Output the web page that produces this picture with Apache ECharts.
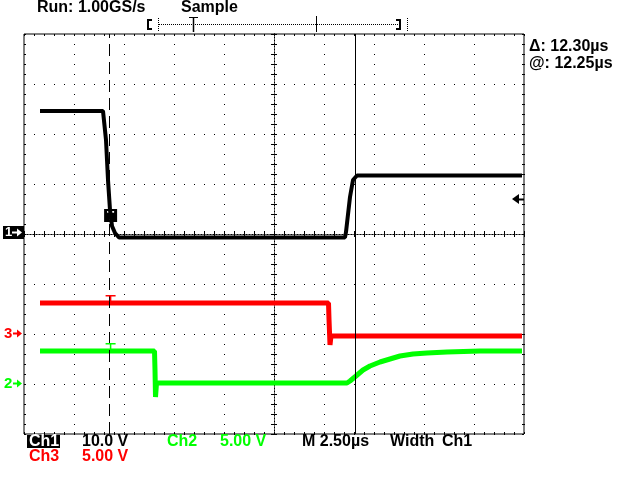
<!DOCTYPE html>
<html><head><meta charset="utf-8">
<script src="https://cdn.jsdelivr.net/npm/echarts@6/dist/echarts.min.js"></script>
<style>html,body{margin:0;padding:0;background:#fff}#c{width:640px;height:480px}</style>
</head><body><div id="c"></div>
<script>
// time in microseconds (0 = screen centre), voltage in volts
const ch1Time = [-11.7, -8.55, -8.5, -8.4, -8.3, -8.2, -8.1, -7.95, -7.75, 3.55, 3.6, 3.8, 3.95, 4.15, 12.4];
const ch1Volt = [24.6, 24.6, 24.2, 18.8, 10.8, 4.8, 1.6, 0.2, -0.7, -0.7, 0.4, 7.4, 10.8, 11.7, 11.7];
const ch3Time = [-11.7, 2.725, 2.75, 2.8, 2.8, 2.85, 12.4];
const ch3Volt = [3.1, 3.1, 1.5, 1.5, -1.1, -0.2, -0.2];
const ch2Time = [-11.7, -5.975, -5.95, -5.925, -5.875, 3.65, 3.8, 4.1, 4.45, 4.8, 5.3, 5.8, 6.3, 6.95, 7.65, 8.65, 10.3, 12.4];
const ch2Volt = [3.3, 3.3, 1.4, -1.3, 0.1, 0.1, 0.3, 0.8, 1.4, 1.8, 2.2, 2.5, 2.8, 3.0, 3.1, 3.2, 3.3, 3.3];
const cursorTimes = [-8.23, 4.07];
const ch1Scale = {min: -40, max: 40, step: 10};   // 10.0 V/div, ground at centre
const ch3Scale = {min: -10, max: 30, step: 5};    // 5.00 V/div
const ch2Scale = {min: -5, max: 35, step: 5};     // 5.00 V/div
const timeScale = {min: -12.5, max: 12.5, step: 2.5}; // 2.50 us/div
const ch1TrigLevel = 7.0;
const trigMarkTime = -8.17;
const topTexts = ['Run: 1.00GS/s', 'Sample'];
const cursorTexts = ['\u0394: 12.30\u00b5s', '@: 12.25\u00b5s'];
const bottomTexts = ['Ch1', '10.0 V', 'Ch2', '5.00 V', 'M 2.50\u00b5s', 'Width', 'Ch1', 'Ch3', '5.00 V'];

const FONT = 'Liberation Sans';
const GREEN = '#00ff00', RED = '#ff0000', BLACK = '#000000';

function pairs(t, v) { return t.map((x, i) => [x, v[i]]); }

const dotted = {color: BLACK, width: 1, type: [1, 9]};
function borderX(pos, split) {
  return {type: 'value', min: timeScale.min, max: timeScale.max, interval: timeScale.step, position: pos,
    axisLine: {show: false, onZero: false}, axisLabel: {show: false},
    axisTick: {show: true, inside: true, length: 2, lineStyle: {color: BLACK}},
    minorTick: {show: true, splitNumber: 5, length: 2, lineStyle: {color: BLACK}},
    splitLine: {show: !!split, lineStyle: dotted}};
}
function centerX(inside) {
  return {type: 'value', min: timeScale.min, max: timeScale.max, interval: timeScale.step, position: 'bottom',
    axisLine: {show: true, onZero: true, onZeroAxisIndex: 0, lineStyle: {color: BLACK, width: 1, type: [1, 2]}},
    axisLabel: {show: false},
    axisTick: {show: true, inside: inside, length: 3, lineStyle: {color: BLACK}},
    minorTick: {show: true, splitNumber: 5, length: 3, lineStyle: {color: BLACK}},
    splitLine: {show: false}};
}
function borderY(pos, split) {
  return {type: 'value', min: ch1Scale.min, max: ch1Scale.max, interval: ch1Scale.step, position: pos,
    axisLine: {show: false, onZero: false}, axisLabel: {show: false},
    axisTick: {show: true, inside: true, length: 2, lineStyle: {color: BLACK}},
    minorTick: {show: true, splitNumber: 5, length: 2, lineStyle: {color: BLACK}},
    splitLine: {show: !!split, lineStyle: dotted}};
}
function centerY(inside) {
  return {type: 'value', min: ch1Scale.min, max: ch1Scale.max, interval: ch1Scale.step, position: 'left',
    axisLine: {show: true, onZero: true, onZeroAxisIndex: 0, lineStyle: {color: BLACK, width: 1, type: [1, 2]}},
    axisLabel: {show: false},
    axisTick: {show: true, inside: inside, length: 3, lineStyle: {color: BLACK}},
    minorTick: {show: true, splitNumber: 5, length: 3, lineStyle: {color: BLACK}},
    splitLine: {show: false}};
}
function hiddenY(s) {
  return {type: 'value', min: s.min, max: s.max, interval: s.step, show: false,
    axisLine: {onZero: false}, splitLine: {show: false}};
}

const tPath = 'path://M0,0H10V1.5H5.75V7H4.25V1.5H0Z';
const tWhite = 'path://M0,0H8V2H5V10H3V2H0Z';

const option = {
  animation: false,
  backgroundColor: '#ffffff',
  grid: {left: 24, top: 34, width: 500, height: 400, show: true, borderColor: BLACK, borderWidth: 1,
         backgroundColor: 'transparent', outerBoundsMode: 'none'},
  xAxis: [borderX('bottom', true), borderX('top', false), centerX(false), centerX(true)],
  yAxis: [borderY('left', true), hiddenY(ch3Scale), hiddenY(ch2Scale), borderY('right', false), centerY(false), centerY(true)],
  series: [
    {name: 'Ch2', type: 'line', xAxisIndex: 0, yAxisIndex: 2, data: pairs(ch2Time, ch2Volt),
     showSymbol: false, lineStyle: {color: GREEN, width: 5}, z: 3,
     markPoint: {silent: true, animation: false, data: [
       {coord: [trigMarkTime, 3.75], symbol: tPath, symbolSize: [10, 7], itemStyle: {color: GREEN}, label: {show: false}}]}},
    {name: 'Ch3', type: 'line', xAxisIndex: 0, yAxisIndex: 1, data: pairs(ch3Time, ch3Volt),
     showSymbol: false, lineStyle: {color: RED, width: 5}, z: 4,
     markPoint: {silent: true, animation: false, data: [
       {coord: [trigMarkTime, 3.55], symbol: tPath, symbolSize: [10, 7], itemStyle: {color: RED}, label: {show: false}}]}},
    {name: 'Ch1', type: 'line', xAxisIndex: 0, yAxisIndex: 0, data: pairs(ch1Time, ch1Volt),
     showSymbol: false, lineStyle: {color: BLACK, width: 4}, z: 5,
     markLine: {silent: true, animation: false, symbol: 'none', label: {show: false},
       data: [
         {xAxis: cursorTimes[0], lineStyle: {color: BLACK, width: 1, type: [12, 6]}},
         {xAxis: cursorTimes[1], lineStyle: {color: BLACK, width: 1, type: 'solid'}}
       ]},
     markPoint: {silent: true, animation: false, data: [
       {coord: [trigMarkTime, 3.7], symbol: 'rect', symbolSize: [13, 13], itemStyle: {color: BLACK}, label: {show: false}},
       {coord: [trigMarkTime, 3.7], symbol: tWhite, symbolSize: [7, 9], itemStyle: {color: '#ffffff'}, label: {show: false}}]}}
  ]
};

const chart = echarts.init(document.getElementById('c'), null, {renderer: 'canvas'});
chart.setOption(option);

function txt(x, y, s, color, size, weight) {
  return {type: 'text', x: x, y: y, silent: true, z: 100,
    style: {text: s, fill: color, fontSize: size || 16, fontFamily: FONT, fontWeight: weight || 'bold',
            textAlign: 'left', textVerticalAlign: 'middle', align: 'left', verticalAlign: 'middle'}};
}
function ln(x1, y1, x2, y2, color, w, dash) {
  return {type: 'line', silent: true, z: 100, shape: {x1: x1, y1: y1, x2: x2, y2: y2},
    style: {stroke: color, lineWidth: w || 1, lineDash: dash || null}};
}
function poly(points, color) {
  return {type: 'polygon', silent: true, z: 100, shape: {points: points}, style: {fill: color}};
}
function arrowRight(x1, x2, y, color) {
  return [ln(x1, y, x2 - 4, y, color, 2), poly([[x2 - 5, y - 4], [x2, y], [x2 - 5, y + 4]], color)];
}

const y1 = Math.round(chart.convertToPixel({yAxisIndex: 0}, 0));
const y3 = Math.round(chart.convertToPixel({yAxisIndex: 1}, 0));
const y2 = Math.round(chart.convertToPixel({yAxisIndex: 2}, 0));
const yTrig = Math.round(chart.convertToPixel({yAxisIndex: 0}, ch1TrigLevel));

const g = [];
// top status
g.push(txt(37, 8, topTexts[0], BLACK));
g.push(txt(181, 8, topTexts[1], BLACK));
// record bar
g.push({type: 'polyline', silent: true, z: 100, shape: {points: [[152, 20], [148, 20], [148, 29], [152, 29]]}, style: {stroke: BLACK, lineWidth: 2, fill: null}});
g.push({type: 'polyline', silent: true, z: 100, shape: {points: [[396, 20], [400, 20], [400, 29], [396, 29]]}, style: {stroke: BLACK, lineWidth: 2, fill: null}});
g.push(ln(158.5, 18, 158.5, 31, BLACK, 1, [1, 1]));
g.push(ln(407.5, 18, 407.5, 31, BLACK, 1, [1, 1]));
g.push(ln(159, 24.5, 398, 24.5, BLACK, 1, [1, 1]));
g.push(ln(189, 17.5, 198, 17.5, BLACK, 1));
g.push(ln(193.5, 17, 193.5, 32, BLACK, 1.5));
g.push(ln(316.5, 16, 316.5, 32, BLACK, 1));
// cursor readouts
g.push(txt(529, 47, cursorTexts[0], BLACK));
g.push(txt(529, 64, cursorTexts[1], BLACK));
// bottom readouts
g.push({type: 'rect', silent: true, z: 99, shape: {x: 27, y: 435, width: 33, height: 13}, style: {fill: BLACK}});
g.push(txt(29, 442, bottomTexts[0], '#ffffff'));
g.push(txt(82, 442, bottomTexts[1], BLACK));
g.push(txt(167, 442, bottomTexts[2], GREEN));
g.push(txt(220, 442, bottomTexts[3], GREEN));
g.push(txt(302, 442, bottomTexts[4], BLACK));
g.push(txt(390, 442, bottomTexts[5], BLACK));
g.push(txt(442, 442, bottomTexts[6], BLACK));
g.push(txt(29, 457, bottomTexts[7], RED));
g.push(txt(82, 457, bottomTexts[8], RED));
// ground markers
g.push({type: 'rect', silent: true, z: 99, shape: {x: 3, y: y1 - 8, width: 21, height: 13}, style: {fill: BLACK}});
g.push(txt(5, y1 - 1.5, '1', '#ffffff', 13));
g.push(...arrowRight(12, 22, y1 - 1.5, '#ffffff'));
g.push(txt(4, y3, '3', RED, 15));
g.push(...arrowRight(13, 22, y3 - 0.5, RED));
g.push(txt(4, y2, '2', GREEN, 15));
g.push(...arrowRight(13, 22, y2 - 0.5, GREEN));
// ch1 trigger level arrow on right
g.push(poly([[512, yTrig], [519, yTrig - 5], [519, yTrig + 5]], BLACK));
g.push(ln(518, yTrig + 0.5, 524, yTrig + 0.5, BLACK, 2));

chart.setOption({graphic: g});
</script>
</body></html>
